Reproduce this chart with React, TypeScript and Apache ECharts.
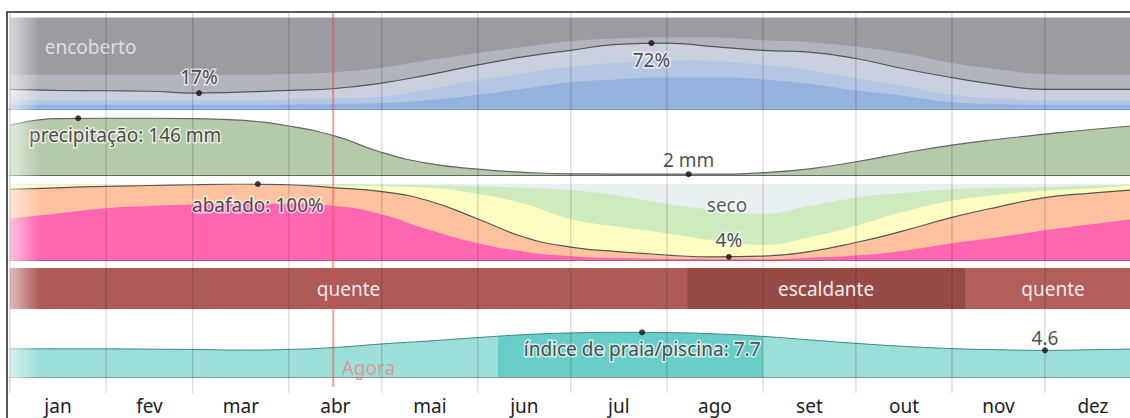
import React, { useEffect, useRef } from 'react';
import * as echarts from 'echarts';

// ---- x positions (day of year) ----
const DAYS = [0, 15, 31, 45, 59, 74, 90, 105, 120, 135, 151, 166, 181, 196, 212, 227, 243, 258, 273, 288, 304, 319, 334, 349, 365];
const MONTHS = ['jan', 'fev', 'mar', 'abr', 'mai', 'jun', 'jul', 'ago', 'set', 'out', 'nov', 'dez'];
const MONTH_STARTS = [0, 31, 59, 90, 120, 151, 181, 212, 243, 273, 304, 334, 365];
const MONTH_MIDS = [15.5, 45, 74.5, 105, 135.5, 166, 196.5, 227.5, 258, 288.5, 319, 349.5];

// ---- cloud cover, cumulative % from the bottom ----
const CLOUD_CLEAR = [4, 4, 4, 4, 4, 4, 4.5, 5, 6, 9, 15, 22, 29, 32, 34, 34, 32, 27, 20, 14, 7, 5, 4, 4, 4];
const CLOUD_MOSTLY_CLEAR = [9, 9, 9, 9, 9, 9, 10, 11, 13, 21, 31, 39, 46, 50, 53, 52, 48, 42, 33, 25, 15, 11, 9, 9, 9];
const CLOUD_PARTLY = [21, 20, 19.5, 19, 17, 18, 20, 22, 28, 37, 48, 57, 64, 70.5, 72, 68, 64, 62, 55, 44, 34, 26, 21, 21, 21];
const CLOUD_MOSTLY_CLOUDY = [37, 37, 37, 37, 37, 37, 38, 40, 45, 53, 61, 68, 74, 77, 78, 78, 75, 73, 68, 61, 50, 43, 38, 37, 37];
const CLOUD_DOT_DAYS = [61, 207];
const CLOUD_DOT_VALUES = [17, 72];

// ---- precipitation, mm ----
const PRECIP = [128, 145, 146, 146, 145, 141, 126, 100, 58, 30, 15, 7, 3, 2.5, 2, 2, 6, 16, 34, 56, 77, 92, 105, 117, 128];
const PRECIP_DOT_DAYS = [22, 219];
const PRECIP_DOT_VALUES = [146, 2];

// ---- humidity comfort, cumulative % from the bottom ----
const HUM_PINK = [55, 61, 68, 71, 73, 74, 74, 71, 60, 40, 22, 11, 5, 2.5, 1.5, 1, 1, 3, 6, 12, 22, 30, 39, 47, 55];
const HUM_ORANGE = [93, 95, 97, 98, 99, 100, 99, 95, 90, 78, 54, 30, 17, 11, 6.5, 4, 5, 11, 23, 38, 56, 70, 82, 88, 93];
const HUM_YELLOW = [99, 99.5, 99.5, 100, 100, 100, 99.5, 98, 97, 95, 87, 74, 54, 44, 35, 26, 20, 30, 45, 63, 78, 86, 91, 94, 99];
const HUM_GREEN = [99.5, 100, 100, 100, 100, 100, 100, 100, 99, 98.5, 97, 95, 92, 85, 74, 66, 61, 71, 82, 88, 93, 95, 96, 98, 99.5];
const HUM_DOT_DAYS = [80, 232];
const HUM_DOT_VALUES = [100, 4];

// ---- temperature bands ----
const TEMP_STARTS = [0, 218.5, 308.2];
const TEMP_ENDS = [218.5, 308.2, 365];
const TEMP_NAMES = ['quente', 'escaldante', 'quente'];

// ---- beach / pool index ----
const BEACH = [4.85, 4.85, 4.85, 4.8, 4.75, 4.65, 4.75, 5.1, 5.7, 6.2, 6.8, 7.3, 7.6, 7.7, 7.65, 7.45, 7.0, 6.4, 5.8, 5.3, 4.9, 4.7, 4.6, 4.7, 4.85];
const BEACH_DOT_DAYS = [204, 334];
const BEACH_DOT_VALUES = [7.7, 4.6];
const BEACH_SEASON = [157.5, 243];

const AGORA_DAY = 104.3;

const FONT = "'Noto Sans', 'DejaVu Sans', sans-serif";
const FS = 19;

const pts = (arr: number[]) => DAYS.map((d, i) => [d, arr[i]]);

function area(gi: number, arr: number[], color: string | null, line?: string): any {
  return {
    type: 'line', xAxisIndex: gi, yAxisIndex: gi, data: pts(arr), smooth: 0.5,
    symbol: 'none', silent: true,
    lineStyle: line ? { color: line, width: 1.2 } : { width: 0, opacity: 0 },
    areaStyle: color ? { color, opacity: 1 } : { opacity: 1 },
  };
}

const labelBase = {
  show: true, fontFamily: FONT, fontSize: FS, color: '#222',
  textBorderColor: 'rgba(255,255,255,0.85)', textBorderWidth: 3,
};

function dots(gi: number, days: number[], vals: number[], texts: string[], pos: string[], dist: number[], offs: number[][]): any {
  return {
    type: 'scatter', xAxisIndex: gi, yAxisIndex: gi, symbolSize: 6, z: 4, silent: true,
    itemStyle: { color: '#111' },
    data: days.map((d, i) => ({
      value: [d, vals[i]],
      label: { ...labelBase, position: pos[i], distance: dist[i], offset: offs[i], formatter: texts[i] },
    })),
  };
}

function note(gi: number, day: number, val: number, text: string, extra: any): any {
  return {
    type: 'scatter', xAxisIndex: gi, yAxisIndex: gi, symbolSize: 1, z: 4, silent: true,
    itemStyle: { color: 'rgba(0,0,0,0)' },
    data: [{ value: [day, val], label: { ...labelBase, position: 'inside', formatter: text, ...extra } }],
  };
}

export default function App() {
  const ref = useRef<HTMLDivElement>(null);
  useEffect(() => {
    if (!ref.current) return;
    const chart = echarts.init(ref.current, undefined, { renderer: 'svg' });
    const L = 10, R = 4;
    const g = (top: number, height: number, extra: any = {}) =>
      ({ left: L, right: R, top, height, outerBoundsMode: 'none', containLabel: false, ...extra });
    const grids = [
      g(17.6, 90.9, { show: true, backgroundColor: '#9a9ca1', borderWidth: 0 }),
      g(112.8, 62.2),
      g(184, 76, { show: true, backgroundColor: '#e8eff3', borderWidth: 0 }),
      g(268, 41),
      g(319, 58),
      g(13, 380),
      g(13, 374),
    ];
    const yRanges = [[0, 100], [0, 160], [0, 100], [0, 1], [0, 10], [0, 1], [0, 1]];
    const baseColors: (string | null)[] = ['#7096d2', '#666', '#b85a7a', null, '#8a9a98', null, null];
    const xAxes: any[] = grids.map((_, i) => {
      if (i === 5) {
        return {
          type: 'value', gridIndex: i, min: 0, max: 365, z: 10,
          axisLine: { show: false },
          axisTick: { show: false },
          splitLine: { show: false },
          axisLabel: {
            customValues: MONTH_MIDS, fontFamily: FONT, fontSize: FS, color: '#222', margin: 3,
            formatter: (v: number) => MONTHS[MONTH_MIDS.indexOf(v)] ?? '',
          },
        };
      }
      const c = baseColors[i];
      return {
        type: 'value', gridIndex: i, min: 0, max: 365, show: !!c,
        axisLine: { show: !!c, lineStyle: { color: c || '#000', width: i === 0 ? 2 : 1.2 } },
        axisTick: { show: false }, axisLabel: { show: false }, splitLine: { show: false },
      };
    });
    const yAxes = grids.map((_, i) => ({ type: 'value', gridIndex: i, min: yRanges[i][0], max: yRanges[i][1], show: false }));

    const beachSeries = {
      ...area(4, BEACH, null),
      lineStyle: { color: '#3d8580', width: 1 },
    };

    const series: any[] = [
      // clouds
      area(0, CLOUD_MOSTLY_CLOUDY, '#b1b4bb'),
      area(0, CLOUD_PARTLY, '#c9d0de', '#555'),
      area(0, CLOUD_MOSTLY_CLEAR, '#b3c6e3'),
      area(0, CLOUD_CLEAR, '#93b3de'),
      dots(0, CLOUD_DOT_DAYS, CLOUD_DOT_VALUES, CLOUD_DOT_VALUES.map(v => `${v}%`), ['top', 'bottom'], [4, 4], [[0, 0], [0, 0]]),
      note(0, 26, 67.7, 'encoberto', { color: '#efefef', textBorderWidth: 0 }),
      // precipitation
      area(1, PRECIP, '#b4caa9', '#666'),
      dots(1, PRECIP_DOT_DAYS, PRECIP_DOT_VALUES,
        [`precipitação: ${PRECIP_DOT_VALUES[0]} mm`, `${PRECIP_DOT_VALUES[1]} mm`], ['bottom', 'top'], [4, 2], [[47, 0], [0, 0]]),
      // humidity
      area(2, HUM_GREEN, '#cdebbf'),
      area(2, HUM_YELLOW, '#fdfdc2'),
      area(2, HUM_ORANGE, '#ffc29f', '#555'),
      area(2, HUM_PINK, '#ff66b2'),
      dots(2, HUM_DOT_DAYS, HUM_DOT_VALUES,
        [`abafado: ${HUM_DOT_VALUES[0]}%`, `${HUM_DOT_VALUES[1]}%`], ['bottom', 'top'], [8, 4], [[0, 0], [0, 0]]),
      note(2, 231.4, 72, 'seco', { color: '#333' }),
      // temperature bands
      {
        type: 'custom', xAxisIndex: 3, yAxisIndex: 3, silent: true,
        data: TEMP_NAMES.map((n, i) => [TEMP_STARTS[i], TEMP_ENDS[i], i]),
        renderItem: (params: any, api: any) => {
          const s = api.coord([api.value(0), 1]);
          const e = api.coord([api.value(1), 0]);
          const name = TEMP_NAMES[params.dataIndex];
          return {
            type: 'group',
            children: [
              { type: 'rect', shape: { x: s[0], y: s[1], width: e[0] - s[0], height: e[1] - s[1] },
                style: { fill: name === 'escaldante' ? '#974b46' : (params.dataIndex === 0 ? '#ae5a57' : '#b25e5b') } },
              { type: 'text', x: (s[0] + e[0]) / 2, y: (s[1] + e[1]) / 2,
                style: { text: name, fill: '#f6eaea', font: `${FS}px ${FONT}`, align: 'center', verticalAlign: 'middle' } },
            ],
          };
        },
      },
      // beach index
      beachSeries,
      dots(4, BEACH_DOT_DAYS, BEACH_DOT_VALUES,
        [`índice de praia/piscina: ${BEACH_DOT_VALUES[0]}`, `${BEACH_DOT_VALUES[1]}`], ['bottom', 'top'], [4, 0], [[0, 0], [0, 0]]),
      note(4, AGORA_DAY, 1.55, 'Agora', { position: 'right', distance: 8, color: '#f08585', textBorderWidth: 0 }),
      // month boundary lines
      {
        type: 'custom', xAxisIndex: 5, yAxisIndex: 5, silent: true, z: 10,
        data: MONTH_STARTS.map(d => [d]),
        renderItem: (params: any, api: any) => {
          const a = api.coord([api.value(0), 1]);
          const b = api.coord([api.value(0), 0]);
          return { type: 'line', shape: { x1: a[0], y1: a[1], x2: b[0], y2: b[1] },
            style: { stroke: 'rgba(0,0,0,0.2)', lineWidth: 1 } };
        },
      },
      // agora line
      {
        type: 'line', xAxisIndex: 6, yAxisIndex: 6, data: [[AGORA_DAY, 0], [AGORA_DAY, 1]], symbol: 'none', silent: true, z: 11,
        lineStyle: { color: 'rgba(240,70,70,0.5)', width: 2 },
      },
    ];
    const beachIndex = series.indexOf(beachSeries);

    chart.setOption({
      animation: false,
      grid: grids,
      xAxis: xAxes,
      yAxis: yAxes,
      visualMap: [{
        type: 'piecewise', show: false, dimension: 0, seriesIndex: beachIndex,
        pieces: [{ gte: BEACH_SEASON[0], lt: BEACH_SEASON[1], color: '#68cdc6' }],
        outOfRange: { color: '#9cded8' },
      }],
      series,
      graphic: [
        {
          type: 'rect', z: 5, silent: true,
          shape: { x: 10, y: 17, width: 30, height: 376 },
          style: {
            fill: new echarts.graphic.LinearGradient(0, 0, 1, 0, [
              { offset: 0, color: 'rgba(255,255,255,0.6)' },
              { offset: 1, color: 'rgba(255,255,255,0)' },
            ]),
          },
        },
        {
          type: 'rect', z: 20, silent: true,
          shape: { x: 7, y: 12, width: 1200, height: 500 },
          style: { fill: 'none', stroke: '#222', lineWidth: 1.5 },
        },
      ],
    });
    return () => chart.dispose();
  }, []);
  return <div ref={ref} style={{ position: 'fixed', left: 0, top: 0, width: 1145, height: 418, background: '#fff' }} />;
}
